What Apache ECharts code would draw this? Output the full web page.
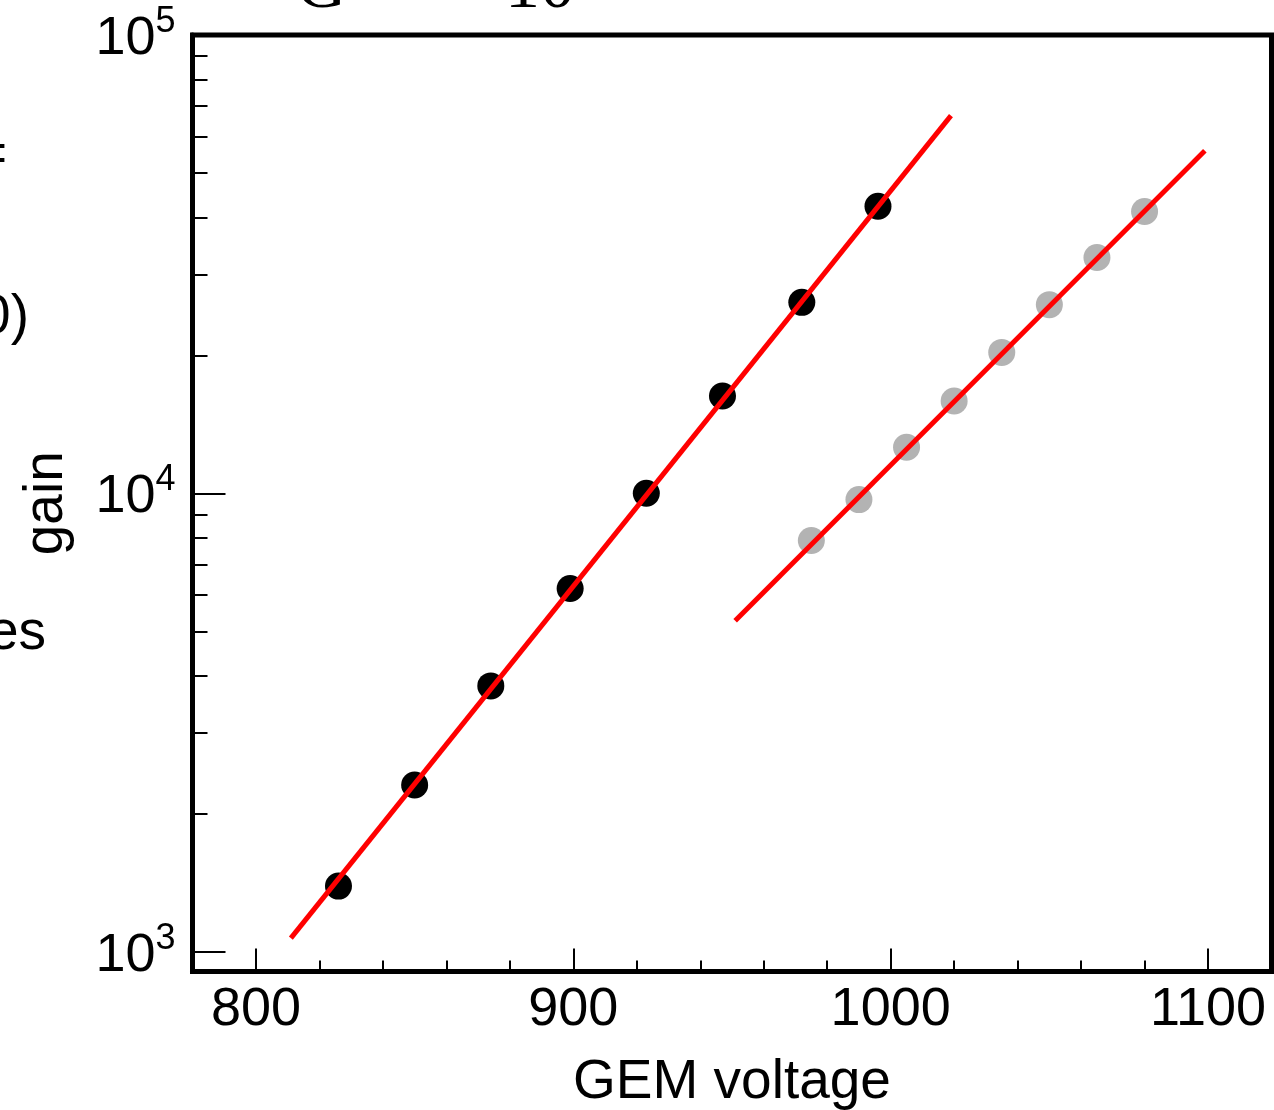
<!DOCTYPE html>
<html>
<head>
<meta charset="utf-8">
<script src="https://cdn.jsdelivr.net/npm/echarts@6/dist/echarts.min.js"></script>
<style>
  html, body { margin: 0; padding: 0; background: #fff; }
  #main { width: 1274px; height: 1110px; }
</style>
</head>
<body>
<div id="main"></div>
<script>
  // measured gain vs GEM voltage, two gas settings
  const voltA = [826, 850, 874, 899, 923, 947, 972, 996];
  const gainA = [1390, 2310, 3800, 6200, 10000, 16300, 26100, 42300];
  const voltB = [975, 990, 1005, 1020, 1035, 1050, 1065, 1080];
  const gainB = [7890, 9690, 12600, 15900, 20300, 25800, 32700, 41200];

  // exponential fits (end points of the red lines)
  const fitVoltA = [811, 1019];
  const fitGainA = [1070, 66700];
  const fitVoltB = [951, 1099];
  const fitGainB = [5270, 55900];

  // ticks
  const xMajor = [800, 900, 1000, 1100];
  const xMinor = [820, 840, 860, 880, 920, 940, 960, 980, 1020, 1040, 1060, 1080];
  const yMajor = [1000, 10000, 100000];
  const yMinor = [2000, 3000, 4000, 5000, 6000, 7000, 8000, 9000,
                  20000, 30000, 40000, 50000, 60000, 70000, 80000, 90000];

  const font = '"Liberation Sans", Arial, sans-serif';
  const xMin = 780, xMax = 1120, yMin = 905, yMax = 100000;

  function zip(xs, ys) {
    let out = [];
    for (let i = 0; i < xs.length; i++) out.push([xs[i], ys[i]]);
    return out;
  }

  let chart = echarts.init(document.getElementById('main'), null, {renderer: 'canvas'});

  let option = {
    animation: false,
    backgroundColor: '#fff',
    grid: {
      left: 192.5, right: 2.5, top: 35, bottom: 138.5,
      outerBoundsMode: 'none', containLabel: false,
      show: true, borderColor: '#000', borderWidth: 5
    },
    xAxis: [
      {
        type: 'value', min: xMin, max: xMax,
        name: 'GEM voltage', nameLocation: 'middle', nameGap: 84,
        nameTextStyle: {fontSize: 55, color: '#000', fontFamily: font},
        axisLine: {lineStyle: {color: '#000', width: 5}},
        axisTick: {inside: true, length: 23, customValues: xMajor, lineStyle: {color: '#000', width: 2}},
        axisLabel: {
          customValues: xMajor, fontSize: 54, color: '#000', fontFamily: font, margin: 12,
          formatter: function (v) { return String(v); }
        },
        splitLine: {show: false}
      },
      {
        type: 'value', min: xMin, max: xMax, position: 'bottom',
        axisLine: {show: false},
        axisTick: {inside: true, length: 11, customValues: xMinor, lineStyle: {color: '#000', width: 2}},
        axisLabel: {show: false},
        splitLine: {show: false}
      }
    ],
    yAxis: [
      {
        type: 'log', logBase: 10, min: yMin, max: yMax,
        name: 'gain', nameLocation: 'middle', nameGap: 118,
        nameTextStyle: {fontSize: 55, color: '#000', fontFamily: font},
        axisLine: {lineStyle: {color: '#000', width: 5}},
        axisTick: {inside: true, length: 33, customValues: yMajor, lineStyle: {color: '#000', width: 2}},
        axisLabel: {
          customValues: yMajor, margin: 17, color: '#000',
          formatter: function (v) {
            return '{b|10}{s|' + Math.round(Math.log10(v)) + '}';
          },
          rich: {
            b: {fontSize: 54, fontFamily: font, color: '#000', padding: [8, 0, 0, 0]},
            s: {fontSize: 36, fontFamily: font, color: '#000', verticalAlign: 'top'}
          }
        },
        splitLine: {show: false}
      },
      {
        type: 'log', logBase: 10, min: yMin, max: yMax, position: 'left',
        axisLine: {show: false},
        axisTick: {inside: true, length: 15, customValues: yMinor, lineStyle: {color: '#000', width: 2}},
        axisLabel: {show: false},
        splitLine: {show: false}
      }
    ],
    series: [
      {
        type: 'scatter', name: 'A', data: zip(voltA, gainA),
        symbolSize: 27, itemStyle: {color: '#000', opacity: 1}, z: 2
      },
      {
        type: 'scatter', name: 'B', data: zip(voltB, gainB),
        symbolSize: 27, itemStyle: {color: '#b3b3b3', opacity: 1}, z: 2
      },
      {
        type: 'line', name: 'fitA', data: zip(fitVoltA, fitGainA),
        showSymbol: false, lineStyle: {color: '#ff0000', width: 5}, z: 3
      },
      {
        type: 'line', name: 'fitB', data: zip(fitVoltB, fitGainB),
        showSymbol: false, lineStyle: {color: '#ff0000', width: 5}, z: 3
      }
    ],
    // fragments of neighbouring text cut off by the crop
    graphic: [
      {type: 'text', x: 7, y: 128, style: {text: '=', font: '55px ' + font, fill: '#000', align: 'right'}},
      {type: 'text', x: 29, y: 290, style: {text: '0)', font: '55px ' + font, fill: '#000', align: 'right'}},
      {type: 'text', x: 46, y: 606, style: {text: 'es', font: '55px ' + font, fill: '#000', align: 'right'}},
      {type: 'text', x: 505, y: 24, style: {text: '10', font: '70px "Liberation Serif", serif', fill: '#000', verticalAlign: 'bottom'}},
      {type: 'text', x: 296, y: 24, style: {text: 'G', font: '70px "Liberation Serif", serif', fill: '#000', verticalAlign: 'bottom'}}
    ]
  };

  chart.setOption(option);
</script>
</body>
</html>
